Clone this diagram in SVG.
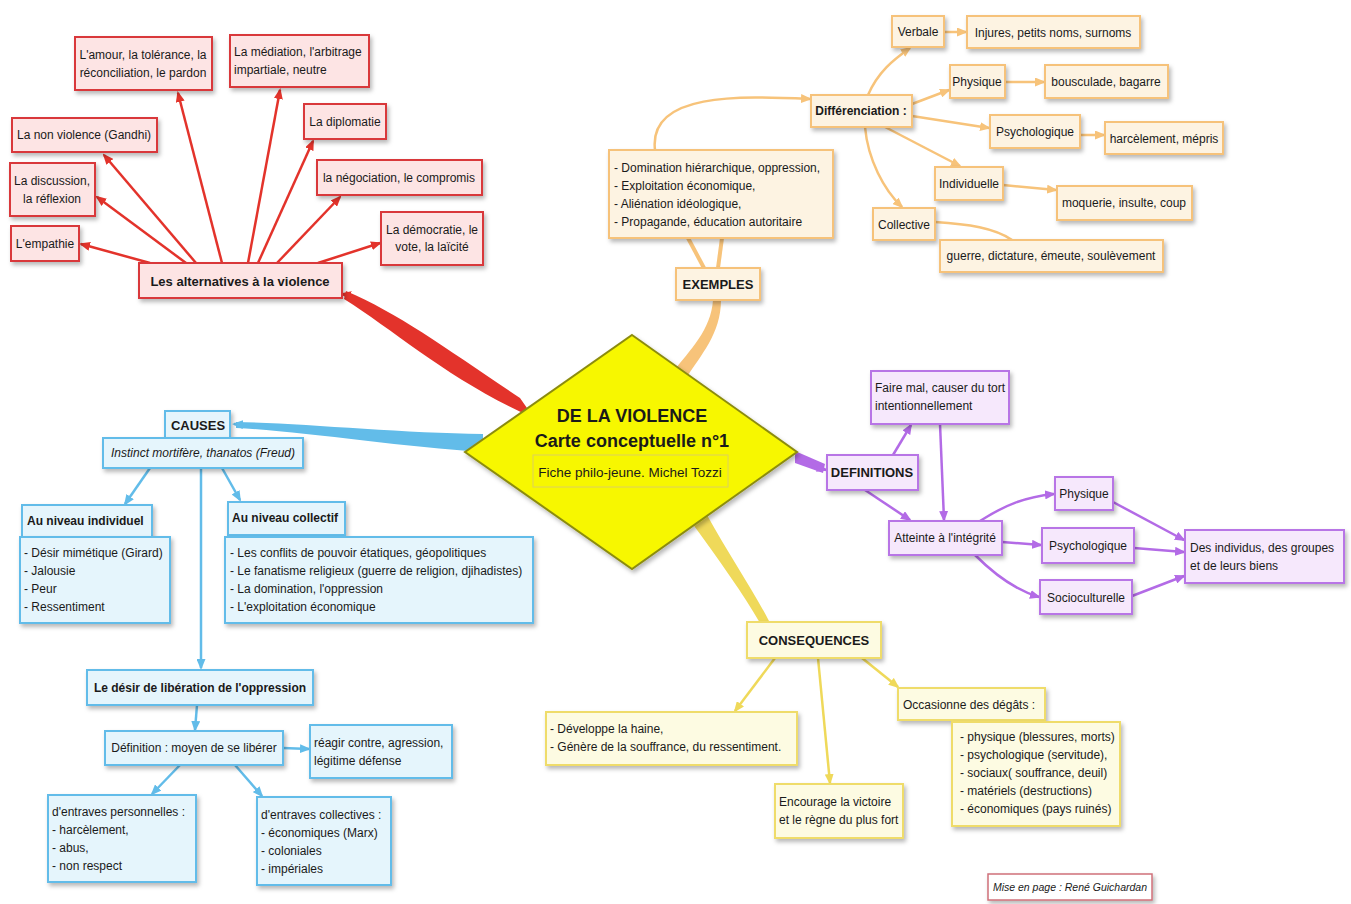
<svg xmlns="http://www.w3.org/2000/svg" width="1351" height="904" viewBox="0 0 1351 904">
<style>
text{font-family:"Liberation Sans",Arial,sans-serif;font-size:12px;fill:#1a1a1a}
.b{font-weight:bold;font-size:13px}
.bs{font-weight:bold;font-size:12px}
.t{font-weight:bold;font-size:18px}
.c{text-anchor:middle}
.i{font-style:italic}
.sm{font-size:10.5px}
.box{stroke-width:2;filter:url(#sh)}
.red{fill:#fde4e4;stroke:#d9383a}
.org{fill:#fdf3e2;stroke:#f6c27a}
.blu{fill:#e5f5fc;stroke:#62bce9}
.pur{fill:#f6e8fc;stroke:#b874e6}
.yel{fill:#fdfbe2;stroke:#efdc6a}
.lr{stroke:#e3332b;stroke-width:2.5;fill:none;marker-end:url(#ar)}
.lo{stroke:#f7c37a;stroke-width:2.5;fill:none;marker-end:url(#ao)}
.lb{stroke:#62bce9;stroke-width:2.5;fill:none;marker-end:url(#ab)}
.lp{stroke:#b36be6;stroke-width:2.5;fill:none;marker-end:url(#ap)}
.ly{stroke:#efd95a;stroke-width:2.5;fill:none;marker-end:url(#ay)}
</style>
<defs>
<filter id="sh" x="-20%" y="-20%" width="140%" height="150%"><feDropShadow dx="2" dy="3" stdDeviation="2" flood-color="#000" flood-opacity="0.28"/></filter>
<marker id="ar" markerUnits="userSpaceOnUse" markerWidth="11" markerHeight="9" refX="9" refY="4.5" orient="auto"><path d="M0,0 L11,4.5 L0,9 z" fill="#e3332b"/></marker>
<marker id="ao" markerUnits="userSpaceOnUse" markerWidth="11" markerHeight="9" refX="9" refY="4.5" orient="auto"><path d="M0,0 L11,4.5 L0,9 z" fill="#f7c37a"/></marker>
<marker id="ab" markerUnits="userSpaceOnUse" markerWidth="11" markerHeight="9" refX="9" refY="4.5" orient="auto"><path d="M0,0 L11,4.5 L0,9 z" fill="#62bce9"/></marker>
<marker id="ap" markerUnits="userSpaceOnUse" markerWidth="11" markerHeight="9" refX="9" refY="4.5" orient="auto"><path d="M0,0 L11,4.5 L0,9 z" fill="#b36be6"/></marker>
<marker id="ay" markerUnits="userSpaceOnUse" markerWidth="11" markerHeight="9" refX="9" refY="4.5" orient="auto"><path d="M0,0 L11,4.5 L0,9 z" fill="#efd95a"/></marker>
</defs>
<rect width="1351" height="904" fill="#ffffff"/>

<g id="connectors">
<!-- main branches -->
<path d="M346,291 C400,314 448,350 520,398 L534,418 C452,382 398,333 344,299 Z" fill="#e3332b"/>
<path d="M483,434 C400,433 300,423 236,422 L236,428 C300,431 400,447 483,452 Z" fill="#62bce9"/>
<path d="M673,372 C690,350 711,330 713,300 L721,300 C721,334 700,356 687,377 Z" fill="#f7c37a"/>
<path d="M692,523 C719,560 744,595 760,623 L769,621 C753,590 729,555 707,515 Z" fill="#efd95a"/>
<path d="M795,451 L825,464 L823,473 L795,463 Z" fill="#b36be6"/>
<path d="M352,296 L342,294" class="lr"/>
<path d="M250,425 L234,424" class="lb"/>
<path d="M812,466 L826,470" class="lp" stroke-width="4"/>
<!-- red -->
<path d="M150,263 L81,244" class="lr"/>
<path d="M186,263 L97,197" class="lr"/>
<path d="M196,263 L104,155" class="lr"/>
<path d="M222,263 L178,93" class="lr"/>
<path d="M248,263 L280,90" class="lr"/>
<path d="M258,263 L313,141" class="lr"/>
<path d="M277,263 L340,197" class="lr"/>
<path d="M318,263 L380,243" class="lr"/>
<!-- orange -->
<path d="M688,238 L704,268" stroke="#f7c37a" stroke-width="4" fill="none"/>
<path d="M722,238 L718,268" stroke="#f7c37a" stroke-width="4" fill="none"/>
<path d="M655,150 C648,92 740,96 810,99" class="lo"/>
<path d="M868,95 C878,72 893,60 910,48" class="lo"/>
<path d="M912,104 L949,90" class="lo"/>
<path d="M912,116 L989,128" class="lo"/>
<path d="M885,127 L960,166" class="lo"/>
<path d="M865,127 C868,160 884,190 902,207" class="lo"/>
<path d="M944,32 L966,32" class="lo"/>
<path d="M1005,82 L1044,82" class="lo"/>
<path d="M1080,135 L1104,135" class="lo"/>
<path d="M1003,185 L1056,190" class="lo"/>
<path d="M935,222 C968,224 995,228 1012,240" stroke="#f7c37a" stroke-width="2.5" fill="none"/>
<!-- blue -->
<path d="M150,468 L125,504" class="lb"/>
<path d="M222,468 L240,500" class="lb"/>
<path d="M201,468 L201,668" class="lb" stroke-width="3"/>
<path d="M197,705 L195,730" class="lb" stroke-width="3.5"/>
<path d="M283,748 L309,749" class="lb" stroke-width="4"/>
<path d="M180,765 L152,794" class="lb"/>
<path d="M235,765 L262,796" class="lb"/>
<!-- purple -->
<path d="M893,455 L911,425" class="lp"/>
<path d="M940,424 L944,520" class="lp"/>
<path d="M865,490 L910,520" class="lp"/>
<path d="M980,521 C1005,505 1025,497 1054,494" class="lp"/>
<path d="M1002,542 L1041,545" class="lp"/>
<path d="M975,555 C995,575 1015,590 1039,597" class="lp"/>
<path d="M1113,502 L1184,540" class="lp"/>
<path d="M1134,548 L1184,552" class="lp"/>
<path d="M1132,596 L1184,576" class="lp"/>
<!-- yellow -->
<path d="M775,658 L735,711" class="ly"/>
<path d="M818,658 L830,783" class="ly"/>
<path d="M862,658 L898,687" class="ly"/>
</g>

<g id="center">
<polygon points="632,335 797,452 632,569 465,452" fill="#f7f700" stroke="#8c8c10" stroke-width="2" filter="url(#sh)"/>
<text x="632" y="422" class="t c">DE LA VIOLENCE</text>
<text x="632" y="447" class="t c">Carte conceptuelle n°1</text>
<rect x="533" y="455" width="195" height="32" fill="none" stroke="#dcd060" stroke-width="1"/>
<text x="630" y="477" class="c" style="font-size:13.5px">Fiche philo-jeune. Michel Tozzi</text>
</g>

<!-- red -->
<g id="n-amour"><rect x="75" y="37" width="137" height="53" class="box red"/><text x="143" y="59" class="c">L'amour, la tolérance, la</text><text x="143" y="77" class="c">réconciliation, le pardon</text></g>
<g id="n-mediation"><rect x="230" y="35" width="139" height="52" class="box red"/><text x="234" y="56">La médiation, l'arbitrage</text><text x="234" y="74">impartiale, neutre</text></g>
<g id="n-diplomatie"><rect x="304" y="104" width="82" height="35" class="box red"/><text x="345" y="126" class="c">La diplomatie</text></g>
<g id="n-nonviolence"><rect x="12" y="118" width="145" height="34" class="box red"/><text x="84" y="139" class="c">La non violence (Gandhi)</text></g>
<g id="n-negociation"><rect x="317" y="160" width="165" height="35" class="box red"/><text x="399" y="182" class="c">la négociation, le compromis</text></g>
<g id="n-discussion"><rect x="10" y="163" width="85" height="53" class="box red"/><text x="52" y="185" class="c">La discussion,</text><text x="52" y="203" class="c">la réflexion</text></g>
<g id="n-democratie"><rect x="381" y="212" width="102" height="53" class="box red"/><text x="432" y="234" class="c">La démocratie, le</text><text x="432" y="251" class="c">vote, la laïcité</text></g>
<g id="n-empathie"><rect x="11" y="226" width="68" height="35" class="box red"/><text x="45" y="248" class="c">L'empathie</text></g>
<g id="n-alternatives"><rect x="139" y="263" width="203" height="35" class="box red"/><text x="240" y="286" class="b c">Les alternatives à la violence</text></g>

<!-- orange -->
<g id="n-verbale"><rect x="892" y="16" width="52" height="31" class="box org"/><text x="918" y="36" class="c">Verbale</text></g>
<g id="n-injures"><rect x="967" y="16" width="173" height="32" class="box org"/><text x="1053" y="37" class="c">Injures, petits noms, surnoms</text></g>
<g id="n-physique-o"><rect x="950" y="65" width="55" height="33" class="box org"/><text x="977" y="86" class="c">Physique</text></g>
<g id="n-bousculade"><rect x="1045" y="65" width="123" height="33" class="box org"/><text x="1106" y="86" class="c">bousculade, bagarre</text></g>
<g id="n-differenciation"><rect x="811" y="95" width="101" height="32" class="box org"/><text x="861" y="115" class="bs c">Différenciation :</text></g>
<g id="n-psycho-o"><rect x="990" y="115" width="90" height="33" class="box org"/><text x="1035" y="136" class="c">Psychologique</text></g>
<g id="n-harcelement"><rect x="1105" y="122" width="118" height="32" class="box org"/><text x="1164" y="143" class="c">harcèlement, mépris</text></g>
<g id="n-individuelle"><rect x="935" y="167" width="68" height="33" class="box org"/><text x="969" y="188" class="c">Individuelle</text></g>
<g id="n-moquerie"><rect x="1057" y="186" width="135" height="34" class="box org"/><text x="1124" y="207" class="c">moquerie, insulte, coup</text></g>
<g id="n-collective"><rect x="873" y="208" width="62" height="32" class="box org"/><text x="904" y="229" class="c">Collective</text></g>
<g id="n-guerre"><rect x="940" y="240" width="223" height="32" class="box org"/><text x="1051" y="260" class="c">guerre, dictature, émeute, soulèvement</text></g>
<g id="n-domination"><rect x="609" y="150" width="224" height="88" class="box org"/><text x="614" y="172">- Domination hiérarchique,  oppression,</text><text x="614" y="190">- Exploitation économique,</text><text x="614" y="208">- Aliénation idéologique,</text><text x="614" y="226">- Propagande, éducation autoritaire</text></g>
<g id="n-exemples"><rect x="676" y="268" width="84" height="32" class="box org"/><text x="718" y="289" class="b c">EXEMPLES</text></g>

<!-- blue -->
<g id="n-causes"><rect x="165" y="411" width="65" height="27" class="box blu"/><text x="198" y="430" class="b c">CAUSES</text></g>
<g id="n-instinct"><rect x="103" y="438" width="200" height="30" class="box blu"/><text x="203" y="457" class="c i">Instinct mortifère, thanatos (Freud)</text></g>
<g id="n-indiv"><rect x="22" y="505" width="130" height="32" class="box blu"/><text x="27" y="525" class="bs">Au niveau individuel</text></g>
<g id="n-indiv-list"><rect x="20" y="537" width="150" height="86" class="box blu"/><text x="24" y="557">- Désir mimétique (Girard)</text><text x="24" y="575">- Jalousie</text><text x="24" y="593">- Peur</text><text x="24" y="611">- Ressentiment</text></g>
<g id="n-collectif"><rect x="228" y="502" width="117" height="33" class="box blu"/><text x="232" y="522" class="bs">Au niveau collectif</text></g>
<g id="n-coll-list"><rect x="225" y="537" width="308" height="86" class="box blu"/><text x="230" y="557">- Les conflits de pouvoir étatiques, géopolitiques</text><text x="230" y="575">- Le fanatisme religieux (guerre de religion, djihadistes)</text><text x="230" y="593">- La domination, l'oppression</text><text x="230" y="611">- L'exploitation économique</text></g>
<g id="n-desir"><rect x="87" y="670" width="226" height="35" class="box blu"/><text x="200" y="692" class="bs c">Le désir de libération de l'oppression</text></g>
<g id="n-definition"><rect x="105" y="731" width="178" height="34" class="box blu"/><text x="194" y="752" class="c">Définition : moyen de se libérer</text></g>
<g id="n-reagir"><rect x="310" y="725" width="142" height="53" class="box blu"/><text x="314" y="747">réagir contre, agression,</text><text x="314" y="765">légitime défense</text></g>
<g id="n-perso"><rect x="48" y="795" width="148" height="87" class="box blu"/><text x="52" y="816">d'entraves personnelles :</text><text x="52" y="834">- harcèlement,</text><text x="52" y="852">- abus,</text><text x="52" y="870">- non respect</text></g>
<g id="n-collectives"><rect x="257" y="797" width="134" height="88" class="box blu"/><text x="261" y="819">d'entraves collectives :</text><text x="261" y="837">- économiques (Marx)</text><text x="261" y="855">- coloniales</text><text x="261" y="873">- impériales</text></g>

<!-- purple -->
<g id="n-definitions"><rect x="827" y="455" width="91" height="35" class="box pur"/><text x="872" y="477" class="b c">DEFINITIONS</text></g>
<g id="n-fairemal"><rect x="871" y="371" width="138" height="53" class="box pur"/><text x="875" y="392">Faire mal, causer du tort</text><text x="875" y="410">intentionnellement</text></g>
<g id="n-atteinte"><rect x="889" y="521" width="113" height="34" class="box pur"/><text x="945" y="542" class="c">Atteinte à l'intégrité</text></g>
<g id="n-physique-p"><rect x="1055" y="477" width="58" height="33" class="box pur"/><text x="1084" y="498" class="c">Physique</text></g>
<g id="n-psycho-p"><rect x="1042" y="528" width="92" height="35" class="box pur"/><text x="1088" y="550" class="c">Psychologique</text></g>
<g id="n-socio"><rect x="1040" y="580" width="92" height="34" class="box pur"/><text x="1086" y="602" class="c">Socioculturelle</text></g>
<g id="n-individus"><rect x="1185" y="530" width="159" height="53" class="box pur"/><text x="1190" y="552">Des individus, des groupes</text><text x="1190" y="570">et de leurs biens</text></g>

<!-- yellow -->
<g id="n-consequences"><rect x="747" y="622" width="134" height="36" class="box yel"/><text x="814" y="645" class="b c">CONSEQUENCES</text></g>
<g id="n-developpe"><rect x="546" y="712" width="251" height="53" class="box yel"/><text x="550" y="733">- Développe la haine,</text><text x="550" y="751">- Génère de la souffrance, du ressentiment.</text></g>
<g id="n-encourage"><rect x="775" y="784" width="128" height="54" class="box yel"/><text x="779" y="806">Encourage la victoire</text><text x="779" y="824">et le règne du plus fort</text></g>
<g id="n-occasionne"><rect x="898" y="688" width="147" height="32" class="box yel"/><text x="903" y="709">Occasionne des dégâts :</text></g>
<g id="n-degats"><rect x="952" y="722" width="168" height="104" class="box yel"/><text x="960" y="741">- physique (blessures, morts)</text><text x="960" y="759">- psychologique (servitude),</text><text x="960" y="777">- sociaux( souffrance, deuil)</text><text x="960" y="795">- matériels (destructions)</text><text x="960" y="813">- économiques (pays ruinés)</text></g>

<g id="credit"><rect x="988" y="874" width="164" height="26" fill="#ffffff" stroke="#d0707a" stroke-width="1.5" filter="url(#sh)"/><text x="1070" y="891" class="c i sm">Mise en page : René Guichardan</text></g>
</svg>
